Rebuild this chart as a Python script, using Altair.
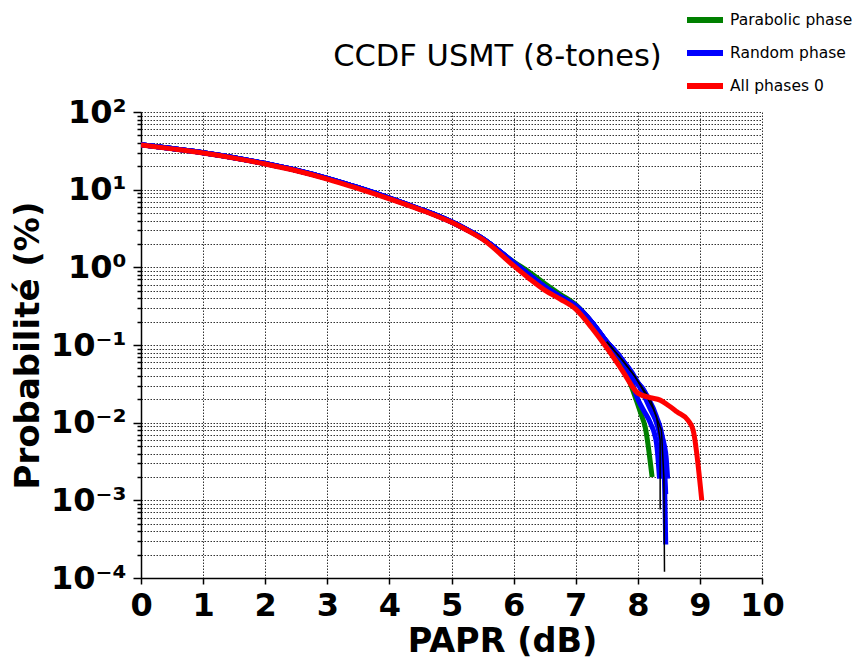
import altair as alt
import pandas as pd

# ---------------- data ----------------
base_x = [0, 0.5, 1, 1.5, 2, 2.5, 3, 3.5, 4, 4.5, 4.75, 5, 5.25, 5.5, 6, 6.25, 6.5, 6.75, 7, 7.25, 7.5, 7.75]

red_base = [37.6, 33.5, 29.6, 25.5, 21.4, 17.5, 13.7, 10.3, 7.6, 5.5, 4.62, 3.8, 3.0, 2.3, 1.05, 0.72, 0.51, 0.39, 0.29, 0.17, 0.092, 0.047]
red_tail_x = [8.0, 8.2, 8.36, 8.5, 8.63, 8.81, 8.89, 9.03]
red_tail_y = [0.024, 0.021, 0.0195, 0.0165, 0.0138, 0.0107, 0.0081, 0.001]

blue_base = [38.0, 33.8, 29.9, 25.8, 21.7, 17.8, 14.0, 10.6, 7.8, 5.6, 4.7, 3.85, 3.05, 2.35, 1.15, 0.8, 0.56, 0.42, 0.32, 0.2, 0.11, 0.064]
blue_tails_x = [
    [7.9, 8.05, 8.2, 8.35, 8.42, 8.45],
    [7.92, 8.05, 8.2, 8.33, 8.45, 8.48],
    [7.85, 7.95, 8.1, 8.2, 8.3, 8.38, 8.42],
    [7.9, 8.0, 8.15, 8.3, 8.4, 8.45],
    [7.9, 7.98, 8.08, 8.2, 8.3, 8.35],
]
blue_tails_y = [
    [0.042, 0.028, 0.016, 0.008, 0.003, 0.00027],
    [0.04, 0.027, 0.015, 0.009, 0.004, 0.0019],
    [0.05, 0.036, 0.026, 0.017, 0.01, 0.005, 0.0019],
    [0.045, 0.033, 0.022, 0.012, 0.006, 0.0012],
    [0.035, 0.022, 0.015, 0.01, 0.0055, 0.0019],
]

green_base = [38.0, 33.8, 29.9, 25.8, 21.7, 17.8, 14.0, 10.6, 7.8, 5.6, 4.7, 3.85, 3.05, 2.35, 1.18, 0.87, 0.62, 0.45, 0.33, 0.2, 0.105, 0.057]
green_tail_x = [7.92, 8.05, 8.12, 8.23]
green_tail_y = [0.026, 0.013, 0.0087, 0.002]

black_x = [
    [7.5, 7.75, 7.9, 8.05, 8.2, 8.3, 8.36, 8.36],
    [7.5, 7.75, 7.95, 8.1, 8.25, 8.38, 8.42, 8.43],
]
black_y = [
    [0.11, 0.064, 0.045, 0.03, 0.02, 0.012, 0.006, 0.00076],
    [0.11, 0.064, 0.04, 0.025, 0.015, 0.008, 0.002, 0.00012],
]

series_names = ["Parabolic phase", "Random phase", "All phases 0"]
series_colors = ["#008000", "#0000ff", "#ff0000"]

x_ticks = list(range(11))
y_major = [1e-4, 1e-3, 1e-2, 1e-1, 1, 10, 100]
y_major_labels = ["10⁻⁴", "10⁻³", "10⁻²", "10⁻¹", "10⁰", "10¹", "10²"]

# ---------------- build table ----------------
rows = []


def add(xs, ys, series, run):
    for i, (a, b) in enumerate(zip(xs, ys)):
        rows.append({"x": a, "y": b, "series": series, "run": run, "i": i})


add(base_x + green_tail_x, green_base + green_tail_y, "Parabolic phase", "g")
for k, (tx, ty) in enumerate(zip(blue_tails_x, blue_tails_y)):
    add(base_x + tx, blue_base + ty, "Random phase", f"b{k}")
add(base_x + red_tail_x, red_base + red_tail_y, "All phases 0", "r")
for k, (tx, ty) in enumerate(zip(black_x, black_y)):
    add(tx, ty, "black", f"k{k}")

df = pd.DataFrame(rows)

y_ticks = []
for e in range(-4, 2):
    for m in range(1, 10):
        y_ticks.append(float(f"{m}e{e}"))
y_ticks.append(100.0)

label_expr = " : ".join(
    f"abs(datum.value / {v} - 1) < 1e-6 ? '{lab}'" for v, lab in zip(y_major, y_major_labels)
) + " : ''"
major_test = "abs(log(datum.value) / LN10 - round(log(datum.value) / LN10)) < 1e-6"

FONT = "DejaVu Sans"

x_enc = alt.X(
    "x:Q",
    scale=alt.Scale(domain=[0, 10], nice=False, zero=False),
    axis=alt.Axis(
        values=x_ticks,
        format="d",
        title="PAPR (dB)",
        titleX=361,
        titleY=73,
        titleBaseline="alphabetic",
        titleFontSize=33.5,
        titleFontWeight="bold",
        titleFont=FONT,
        labelFont=FONT,
        labelFontSize=32,
        labelFontWeight="bold",
        labelPadding=6,
        labelFlush=False,
        labelBound=False,
        labelOverlap=False,
        tickSize=6,
        tickWidth=1.5,
        tickColor="black",
        domainColor="black",
        domainWidth=1.5,
        grid=True,
        gridDash=[1.5, 1.5],
        gridColor="#333333",
        gridWidth=1,
        labelColor="black",
        titleColor="black",
    ),
)

y_enc = alt.Y(
    "y:Q",
    scale=alt.Scale(type="log", domain=[1e-4, 100], nice=False),
    axis=alt.Axis(
        values=y_ticks,
        labelExpr=label_expr,
        labelOverlap=False,
        labelBound=False,
        labelFlush=False,
        title="Probabilité (%)",
        titleX=-113,
        titleY=233,
        titleBaseline="middle",
        titleAngle=-90,
        titleFontSize=34,
        titleFontWeight="bold",
        titleFont=FONT,
        labelFont=FONT,
        labelFontSize=32,
        labelFontWeight="bold",
        labelPadding=7,
        tickSize={"condition": {"test": major_test, "value": 8}, "value": 4},
        tickWidth=1.5,
        tickColor="black",
        domainColor="black",
        domainWidth=1.5,
        grid=True,
        gridDash=[1.5, 1.5],
        gridColor="#333333",
        gridWidth=1,
        labelColor="black",
        titleColor="black",
    ),
)

LEGEND_Y = -113

color_enc = alt.Color(
    "series:N",
    scale=alt.Scale(domain=series_names, range=series_colors),
    legend=alt.Legend(
        orient="none",
        legendX=543,
        legendY=LEGEND_Y,
        title=None,
        labelFont=FONT,
        labelFontSize=15.5,
        labelColor="black",
        symbolType="stroke",
        symbolSize=1296,
        symbolStrokeWidth=6,
        labelOffset=4,
        rowPadding=-3,
        symbolOpacity=1,
        padding=0,
    ),
)

base = alt.Chart(df)

green = base.transform_filter("datum.series == 'Parabolic phase'").mark_line(
    strokeWidth=5, clip=True, interpolate="monotone"
).encode(x=x_enc, y=y_enc, color=color_enc, detail="run:N", order="i:Q")
blue = base.transform_filter("datum.series == 'Random phase'").mark_line(
    strokeWidth=5, clip=True, interpolate="monotone"
).encode(x=x_enc, y=y_enc, color=color_enc, detail="run:N", order="i:Q")
black = base.transform_filter("datum.series == 'black'").mark_line(
    strokeWidth=1.5, clip=True, color="black"
).encode(x=x_enc, y=y_enc, detail="run:N", order="i:Q")
red = base.transform_filter("datum.series == 'All phases 0'").mark_line(
    strokeWidth=5, clip=True, interpolate="monotone"
).encode(x=x_enc, y=y_enc, color=color_enc, detail="run:N", order="i:Q")

# Vega measures a top title's offset from the top of everything above the plot
# (here the legend), so the offset is expressed relative to the legend's top.
chart = (
    alt.layer(green, blue, black, red)
    .properties(
        width=621,
        height=466,
        autosize=alt.AutoSizeParams(type="none"),
        padding={"left": 133, "top": 104, "right": 92, "bottom": 80},
        background="white",
        title=alt.TitleParams(
            "CCDF USMT (8-tones)",
            font=FONT,
            fontSize=30.5,
            fontWeight="normal",
            color="black",
            anchor="middle",
            frame="group",
            dx=46,
            offset=LEGEND_Y + 16,
            baseline="alphabetic",
        ),
    )
    .configure_view(stroke=None)
)

chart.save("out.html", embed_options={"renderer": "svg", "actions": False})
